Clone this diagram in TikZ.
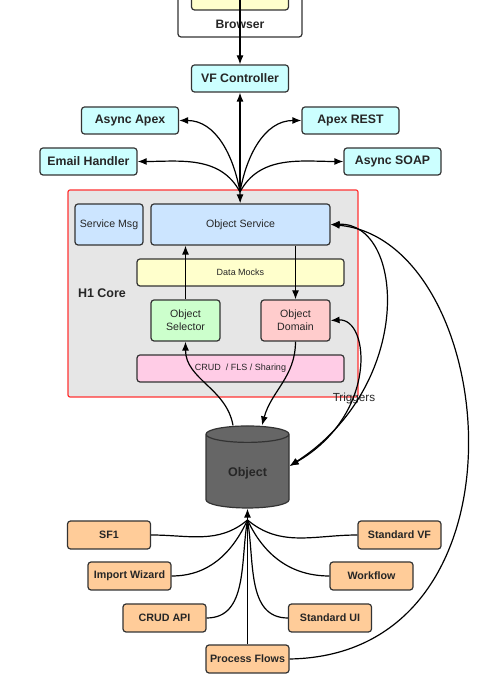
\documentclass[tikz,border=0pt]{standalone}
\usepackage{fontspec}
\setmainfont{Liberation Sans}
\usetikzlibrary{shapes.geometric, arrows.meta}
\definecolor{cyanbox}{HTML}{CCFFFF}
\definecolor{bluebox}{HTML}{CCE5FF}
\definecolor{yellowbox}{HTML}{FFFFCC}
\definecolor{greenbox}{HTML}{CCFFCC}
\definecolor{redbox}{HTML}{FFCCCC}
\definecolor{pinkbox}{HTML}{FFCCE6}
\definecolor{orangebox}{HTML}{FFCC99}
\definecolor{coregray}{HTML}{E6E6E6}
\definecolor{coreline}{HTML}{FF3333}
\definecolor{dbgray}{HTML}{666666}
\tikzset{
>={Latex[length=9pt,width=7pt]}, % filled arrow heads
every node/.style={text=black!85}, % dark text everywhere
box/.style={draw=black!80, line width=1.2pt, rounded corners=3pt, inner sep=0pt}, % every rounded box
entry/.style={box, fill=cyanbox, minimum width=97pt, minimum height=27pt, font=\bfseries\fontsize{12.3}{14}\selectfont}, % ways in
part/.style={box, minimum width=69pt, minimum height=41pt, align=center, font=\fontsize{10.6}{13}\selectfont}, % pieces of the core
layer/.style={box, minimum width=207pt, minimum height=27pt, font=\fontsize{9}{11}\selectfont}, % wide bars of the core
client/.style={box, fill=orangebox, minimum width=83pt, minimum height=28pt, font=\bfseries\fontsize{10.7}{13}\selectfont}, % callers of the object
link/.style={line width=1.2pt}, % connectors
}

\begin{document}
\begin{tikzpicture}[x=1pt, y=1pt]
    \useasboundingbox (0,0) rectangle (482,690);
    \clip (0,0) rectangle (482,690);
    % browser
    \node[box, fill=white, minimum width=124pt, minimum height=57pt] (browser) at (240,681.5) {};
    \node[box, fill=yellowbox, minimum width=97pt, minimum height=30pt] (page) at (240,695) {};
    \node[font=\bfseries\fontsize{12.2}{14}\selectfont] (browsertext) at (240,666) {Browser};
    % entry points
    \node[entry] (vfc) at (240,611.5) {VF Controller};
    \node[entry] (asyncapex) at (130,569.5) {Async Apex};
    \node[entry] (apexrest) at (350.5,569.5) {Apex REST};
    \node[entry] (email) at (88.5,528.5) {Email Handler};
    \node[entry] (asyncsoap) at (392.5,528.5) {Async SOAP};
    % core
    \node[draw=coreline, fill=coregray, line width=1.2pt, rounded corners=2pt, minimum width=290pt, minimum height=207pt] (core) at (213,396.5) {};
    \node[font=\bfseries\fontsize{12.5}{15}\selectfont] (coretext) at (102,397) {H1 Core};
    \node[part, fill=bluebox, minimum width=68pt] (svcmsg) at (109,465.5) {Service Msg};
    \node[part, fill=bluebox, minimum width=179pt] (objsvc) at (240.5,465.5) {Object Service};
    \node[layer, fill=yellowbox] (mocks) at (240.5,417.5) {Data Mocks};
    \node[part, fill=greenbox] (selector) at (185.5,369.5) {Object\\Selector};
    \node[part, fill=redbox] (domain) at (295.5,369.5) {Object\\Domain};
    \node[layer, fill=pinkbox] (crud) at (240.5,321.5) {CRUD~ / FLS / Sharing};
    % database
    \node[cylinder, shape border rotate=90, aspect=0.36, draw=black!80, line width=1.2pt, fill=dbgray,
          minimum width=83pt, minimum height=82pt, font=\bfseries\fontsize{12.5}{15}\selectfont] (obj) at (247.5,217) {Object};
    \node[font=\fontsize{11.7}{14}\selectfont] (triggers) at (354,292) {Triggers};
    % clients
    \node[client] (sf1) at (109,155) {SF1};
    \node[client] (import) at (129.5,114) {Import Wizard};
    \node[client] (crudapi) at (164.5,72) {CRUD API};
    \node[client] (flows) at (247.5,31) {Process Flows};
    \node[client] (stdui) at (330,72) {Standard UI};
    \node[client] (workflow) at (371.5,114) {Workflow};
    \node[client] (stdvf) at (399.5,155) {Standard VF};
    % connectors
    \coordinate (tophub) at (240,498);
    \coordinate (dbhub) at (247.5,170);
    \draw[link, ->] (page.center) -- (vfc);
    \draw[link, ->] (tophub) -- (objsvc);
    \draw[link] (tophub) edge[->] (vfc)
    (tophub) edge[->, out=100, in=0] (asyncapex)
    (tophub) edge[->, out=118, in=0] (email)
    (tophub) edge[->, out=80, in=180] (apexrest)
    (tophub) edge[->, out=62, in=180] (asyncsoap);
    \draw[link, ->] (selector.north) -- (selector.north |- objsvc.south);
    \draw[link, ->] (domain.north |- objsvc.south) -- (domain.north);
    \draw[link, ->] ([xshift=-14.5pt]obj.north) to[out=100, in=-90] (selector.south);
    \draw[link, ->] (domain.south) to[out=-90, in=75] ([xshift=14.5pt]obj.north);
    \draw[link, <->] (domain.east) .. controls (370,372) and (378,275) .. ([yshift=7pt]obj.east);
    \draw[link, <->] (objsvc.east) .. controls (405,468) and (415,305) .. ([yshift=7pt]obj.east);
    \draw[link, ->] (flows.east) .. controls (540,35) and (500,450) .. (objsvc.east);
    \draw[link] (sf1) edge[out=0, in=-140] (dbhub)
    (import) edge[out=0, in=-115] (dbhub)
    (crudapi) edge[out=0, in=-100] (dbhub)
    (flows) edge (dbhub)
    (stdui) edge[out=180, in=-80] (dbhub)
    (workflow) edge[out=180, in=-65] (dbhub)
    (stdvf) edge[out=180, in=-40] (dbhub);
    \draw[link, ->] (dbhub) -- (obj);
\end{tikzpicture}
\end{document}
